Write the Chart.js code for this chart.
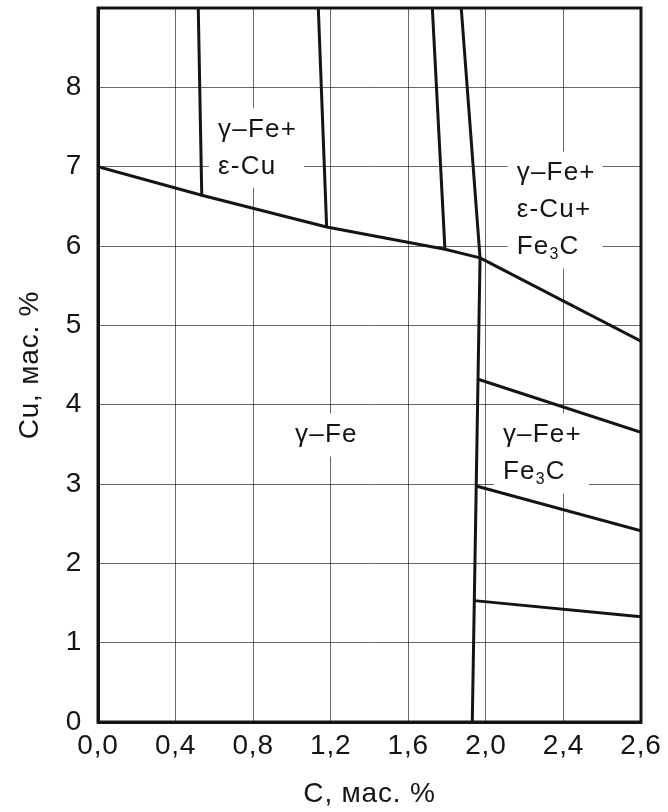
<!DOCTYPE html>
<html>
<head>
<meta charset="utf-8">
<script src="https://cdn.jsdelivr.net/npm/chart.js@4/dist/chart.umd.min.js"></script>
<style>
  html, body { margin: 0; padding: 0; background: #fff; }
  #wrap { width: 668px; height: 812px; }
</style>
</head>
<body>
<div id="wrap"><canvas id="c" width="668" height="812"></canvas></div>
<script>
// Carbon axis: the last division (2,4–2,6) is drawn as wide as the others,
// so x values are in axis units where the right edge sits at 2.8.
const xTickValues = [0, 0.4, 0.8, 1.2, 1.6, 2.0, 2.4, 2.8];
const xTickLabels = ['0,0', '0,4', '0,8', '1,2', '1,6', '2,0', '2,4', '2,6'];
const yTickValues = [0, 1, 2, 3, 4, 5, 6, 7, 8];
const yTickLabels = ['0', '1', '2', '3', '4', '5', '6', '7', '8'];

// Cu solubility limit in γ-Fe
const cuLimitX = [0, 0.535, 1.179, 1.789, 1.97];
const cuLimitY = [7.0, 6.64, 6.24, 5.96, 5.85];

// Carbon limit of γ-Fe (Fe3C boundary)
const cLimitX = [1.873, 1.97, 1.930];
const cLimitY = [9.0, 5.85, 0.0];

// Sections in the γ-Fe + ε-Cu field
const sect1X = [0.517, 0.535];  const sect1Y = [9.0, 6.64];
const sect2X = [1.136, 1.179];  const sect2Y = [9.0, 6.24];
const sect3X = [1.724, 1.789];  const sect3Y = [9.0, 5.96];

// Lines in the Fe3C-bearing fields
const fe3c1X = [1.970, 2.8];  const fe3c1Y = [5.85, 4.80];
const fe3c2X = [1.960, 2.8];  const fe3c2Y = [4.32, 3.65];
const fe3c3X = [1.950, 2.8];  const fe3c3Y = [2.975, 2.41];
const fe3c4X = [1.940, 2.8];  const fe3c4Y = [1.53, 1.327];

// Phase field names and where they sit (axis units, left edge / block centre)
const fieldNames = [
  ['γ–Fe+', 'ε-Cu'],
  ['γ–Fe+', 'ε-Cu+', 'Fe₃C'],
  ['γ–Fe'],
  ['γ–Fe+', 'Fe₃C']
];
const fieldAnchorX = [0.619, 2.159, 1.016, 2.088];
const fieldAnchorY = [7.236, 6.454, 3.618, 3.385];

const lineSets = [
  [cuLimitX, cuLimitY], [cLimitX, cLimitY],
  [sect1X, sect1Y], [sect2X, sect2Y], [sect3X, sect3Y],
  [fe3c1X, fe3c1Y], [fe3c2X, fe3c2Y], [fe3c3X, fe3c3Y], [fe3c4X, fe3c4Y]
];

const FONT = '"Liberation Sans", Arial, Helvetica, sans-serif';
const INK = '#141414';

const datasets = lineSets.map(([xs, ys]) => ({
  data: xs.map((x, i) => ({ x: x, y: ys[i] })),
  showLine: true,
  borderColor: INK,
  borderWidth: 3,
  pointRadius: 0,
  pointHoverRadius: 0,
  fill: false,
  tension: 0
}));

const LABEL_SIZE = 26;
const LABEL_SPACING = '1.2px';
const LINE_STEP = 37;

function richWidth(ctx, text) {
  const parts = text.split('₃');
  let w = 0;
  parts.forEach((p, i) => {
    ctx.font = LABEL_SIZE + 'px ' + FONT;
    w += ctx.measureText(p).width;
    if (i < parts.length - 1) {
      ctx.font = Math.round(LABEL_SIZE * 0.6) + 'px ' + FONT;
      w += ctx.measureText('3').width;
    }
  });
  return w;
}

function richText(ctx, text, x, y) {
  const parts = text.split('₃');
  let cx = x;
  parts.forEach((p, i) => {
    ctx.font = LABEL_SIZE + 'px ' + FONT;
    ctx.fillText(p, cx, y);
    cx += ctx.measureText(p).width;
    if (i < parts.length - 1) {
      ctx.font = Math.round(LABEL_SIZE * 0.6) + 'px ' + FONT;
      ctx.fillText('3', cx, y + 8);
      cx += ctx.measureText('3').width;
    }
  });
}

function fieldBlocks(chart) {
  const xs = chart.scales.x, ys = chart.scales.y, ctx = chart.ctx;
  ctx.save();
  ctx.letterSpacing = LABEL_SPACING;
  const blocks = fieldNames.map((lines, k) => {
    const left = xs.getPixelForValue(fieldAnchorX[k]);
    const cy = ys.getPixelForValue(fieldAnchorY[k]);
    const h = lines.length * LINE_STEP;
    const w = Math.max(...lines.map(t => richWidth(ctx, t)));
    return { lines, left, top: cy - h / 2, w, h };
  });
  ctx.restore();
  return blocks;
}

const phasePlugin = {
  id: 'phaseFields',
  beforeDraw(chart) {
    // slightly open tracking for the axis text
    chart.ctx.letterSpacing = '0.8px';
  },
  beforeDatasetsDraw(chart) {
    const ctx = chart.ctx;
    ctx.save();
    ctx.fillStyle = '#fff';
    fieldBlocks(chart).forEach(b => {
      ctx.fillRect(b.left - 9, b.top - 3, b.w + 16, b.h + 6);
    });
    ctx.restore();
  },
  afterDatasetsDraw(chart) {
    const ctx = chart.ctx;
    const a = chart.chartArea;
    ctx.save();
    // plot frame
    ctx.strokeStyle = INK;
    ctx.lineWidth = 3;
    ctx.strokeRect(a.left, a.top, a.right - a.left, a.bottom - a.top);
    // field names
    ctx.fillStyle = INK;
    ctx.textBaseline = 'middle';
    ctx.textAlign = 'left';
    ctx.letterSpacing = LABEL_SPACING;
    fieldBlocks(chart).forEach(b => {
      b.lines.forEach((t, i) => {
        richText(ctx, t, b.left, b.top + LINE_STEP * (i + 0.5));
      });
    });
    ctx.restore();
  }
};

new Chart(document.getElementById('c'), {
  type: 'scatter',
  data: { datasets },
  plugins: [phasePlugin],
  options: {
    responsive: false,
    animation: false,
    events: [],
    layout: { padding: { left: 0, right: 27, top: 8, bottom: 0 } },
    plugins: { legend: { display: false }, tooltip: { enabled: false } },
    scales: {
      x: {
        type: 'linear',
        min: 0,
        max: 2.8,
        afterBuildTicks(s) { s.ticks = xTickValues.map(v => ({ value: v })); },
        afterFit(s) { s.height = 90; s.paddingLeft = 0; s.paddingRight = 0; },
        ticks: {
          autoSkip: false,
          maxRotation: 0,
          padding: 7,
          color: INK,
          font: { family: FONT, size: 28 },
          callback: (v, i) => xTickLabels[i]
        },
        grid: { color: 'rgba(0,0,0,0.6)', lineWidth: 1, drawTicks: false },
        border: { display: true, color: INK, width: 3 },
        title: {
          display: true,
          text: 'C, мас. %',
          color: INK,
          font: { family: FONT, size: 28 },
          padding: { top: 0, bottom: 1 }
        }
      },
      y: {
        type: 'linear',
        min: 0,
        max: 9,
        afterBuildTicks(s) { s.ticks = yTickValues.map(v => ({ value: v })); },
        afterFit(s) { s.width = 98; s.paddingTop = 0; s.paddingBottom = 0; },
        ticks: {
          autoSkip: false,
          padding: 16,
          color: INK,
          font: { family: FONT, size: 28 },
          callback: (v, i) => yTickLabels[i]
        },
        grid: { color: 'rgba(0,0,0,0.6)', lineWidth: 1, drawTicks: false },
        border: { display: true, color: INK, width: 3 },
        title: {
          display: true,
          text: 'Cu, мас. %',
          color: INK,
          font: { family: FONT, size: 28 },
          padding: { top: 13, bottom: 0 }
        }
      }
    }
  }
});
</script>
</body>
</html>
